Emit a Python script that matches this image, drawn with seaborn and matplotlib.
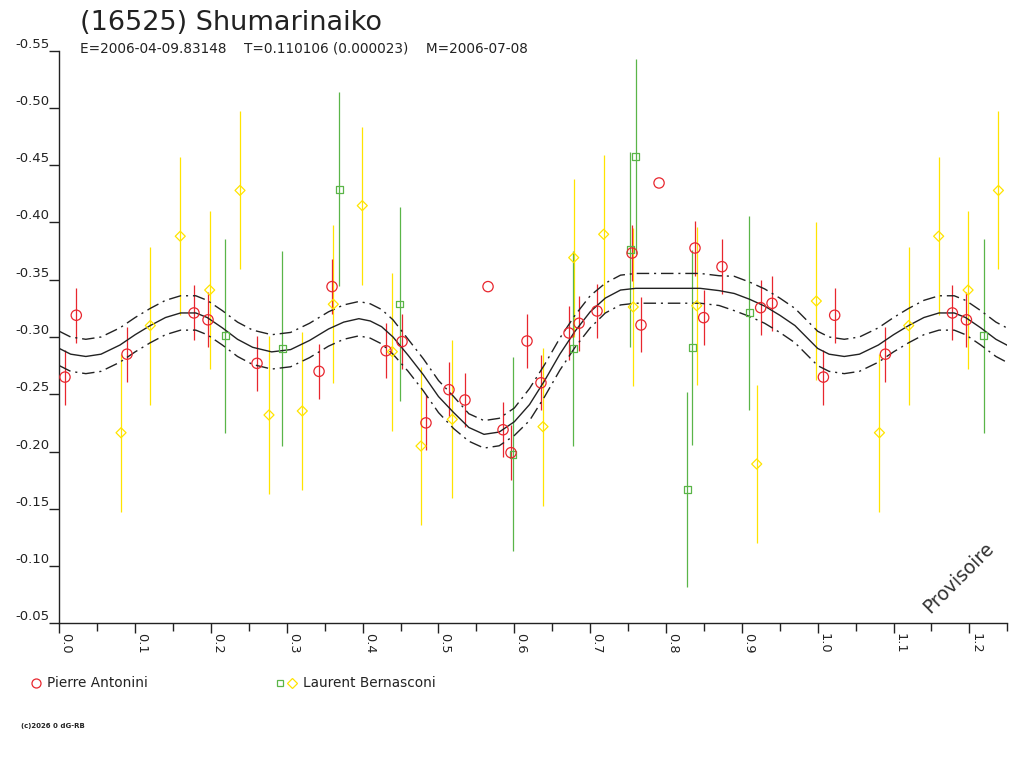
import numpy as np
import pandas as pd
import matplotlib
matplotlib.use("Agg")
import matplotlib.pyplot as plt
from matplotlib.lines import Line2D
import seaborn as sns

# (16525) Shumarinaiko - phased light curve

# Pierre Antonini (red circles)
ant_phase = [0.0075, 0.0224, 0.0893, 0.1776, 0.1961, 0.2607, 0.3425, 0.3596,
             0.4308, 0.4519, 0.4835, 0.5138, 0.5349, 0.5653, 0.5851, 0.5956,
             0.6167, 0.6351, 0.6721, 0.6853, 0.7090, 0.7552, 0.7908, 0.7670,
             0.8382, 0.8497, 0.8738, 0.9248, 0.9398]
ant_mag = [-0.265, -0.319, -0.285, -0.321, -0.315, -0.277, -0.270, -0.344,
           -0.288, -0.296, -0.225, -0.254, -0.245, -0.344, -0.219, -0.199,
           -0.2965, -0.260, -0.3035, -0.312, -0.3227, -0.3733, -0.4345, -0.3105,
           -0.3777, -0.3169, -0.3614, -0.3256, -0.3294]
ant_err = [0.024, 0.024, 0.024, 0.024, 0.024, 0.024, 0.024, 0.024,
           0.024, 0.024, 0.024, 0.024, 0.024, 0.0, 0.024, 0.024,
           0.024, 0.024, 0.024, 0.024, 0.024, 0.0245, 0.0, 0.024,
           0.024, 0.024, 0.024, 0.024, 0.024]

# Laurent Bernasconi, green squares
grn_phase = [0.2189, 0.2940, 0.3692, 0.4488, 0.5982, 0.6777, 0.7529, 0.7600,
             0.8347, 0.8280, 0.9098]
grn_mag = [-0.3009, -0.2898, -0.4292, -0.3288, -0.1978, -0.2901, -0.3766, -0.4574,
           -0.2907, -0.1670, -0.3210]
grn_err = [0.085] * 11

# Laurent Bernasconi, yellow diamonds
yel_phase = [0.0814, 0.1200, 0.1595, 0.1983, 0.2383, 0.2765, 0.3204, 0.3613,
             0.3995, 0.4391, 0.4769, 0.5182, 0.6378, 0.6783, 0.7178, 0.7568,
             0.8405, 0.9196, 0.9982]
yel_mag = [-0.2164, -0.310, -0.388, -0.341, -0.428, -0.2319, -0.2354, -0.3286,
           -0.4147, -0.2872, -0.2048, -0.2281, -0.2217, -0.3693, -0.3897, -0.3262,
           -0.3273, -0.1891, -0.3314]
yel_err = [0.069] * 19

# Fourier fit and its uncertainty band
fit_phase = [0.000, 0.015, 0.035, 0.055, 0.080, 0.100, 0.120, 0.140, 0.160, 0.180,
             0.195, 0.215, 0.235, 0.255, 0.280, 0.305, 0.330, 0.355, 0.375, 0.395,
             0.410, 0.425, 0.440, 0.460, 0.480, 0.500, 0.520, 0.540, 0.560, 0.580,
             0.600, 0.620, 0.640, 0.660, 0.680, 0.700, 0.720, 0.740, 0.760, 0.800,
             0.845, 0.870, 0.890, 0.910, 0.930, 0.950, 0.970, 0.985, 1.000]
fit_mag = [-0.290, -0.285, -0.283, -0.285, -0.293, -0.302, -0.310, -0.317, -0.321, -0.321,
           -0.317, -0.308, -0.298, -0.291, -0.287, -0.289, -0.297, -0.307, -0.313, -0.316,
           -0.314, -0.309, -0.300, -0.284, -0.267, -0.248, -0.234, -0.221, -0.215, -0.217,
           -0.226, -0.241, -0.262, -0.285, -0.305, -0.322, -0.334, -0.341, -0.3425, -0.3425,
           -0.3425, -0.3405, -0.338, -0.333, -0.327, -0.319, -0.310, -0.300, -0.290]
fit_band = [0.015, 0.015, 0.015, 0.015, 0.015, 0.015, 0.015, 0.015, 0.015, 0.015,
            0.015, 0.015, 0.015, 0.015, 0.015, 0.015, 0.015, 0.015, 0.015, 0.015,
            0.015, 0.015, 0.015, 0.014, 0.014, 0.014, 0.014, 0.012, 0.012, 0.012,
            0.012, 0.014, 0.014, 0.014, 0.014, 0.014, 0.013, 0.013, 0.013, 0.013,
            0.013, 0.013, 0.015, 0.015, 0.015, 0.015, 0.015, 0.015, 0.015]

x_ticks = [0.0, 0.1, 0.2, 0.3, 0.4, 0.5, 0.6, 0.7, 0.8, 0.9, 1.0, 1.1, 1.2]
x_labels = ["0.0", "0.1", "0.2", "0.3", "0.4", "0.5", "0.6", "0.7", "0.8", "0.9", "1.0", "1.1", "1.2"]
y_ticks = [-0.55, -0.50, -0.45, -0.40, -0.35, -0.30, -0.25, -0.20, -0.15, -0.10, -0.05]
y_labels = ["-0.55", "-0.50", "-0.45", "-0.40", "-0.35", "-0.30", "-0.25", "-0.20", "-0.15", "-0.10", "-0.05"]

RED = "#e8262e"
GRN = "#5ab548"
YEL = "#ffe400"
INK = "#222222"


def wrap(df, upto=0.25):
    # phases just past 1.0 are the same observations shown again
    extra = df[df["phase"] <= upto].copy()
    extra["phase"] += 1.0
    return pd.concat([df, extra], ignore_index=True)


ant = wrap(pd.DataFrame({"phase": ant_phase, "mag": ant_mag, "err": ant_err}))
grn = wrap(pd.DataFrame({"phase": grn_phase, "mag": grn_mag, "err": grn_err}))
yel = wrap(pd.DataFrame({"phase": yel_phase, "mag": yel_mag, "err": yel_err}))
fit = wrap(pd.DataFrame({"phase": fit_phase, "mag": fit_mag, "band": fit_band}), upto=0.26)
fit["upper"] = fit["mag"] - fit["band"]
fit["lower"] = fit["mag"] + fit["band"]

sns.set_theme(style="ticks")
plt.rcParams["font.family"] = ["DejaVu Sans"]
plt.rcParams["axes.unicode_minus"] = False

W, H = 1024, 768
fig = plt.figure(figsize=(W / 100, H / 100), dpi=100)
ax = fig.add_axes([59.3 / W, 1 - 623.3 / H, 948 / W, 572.6 / H])

# error bars
for df, col in [(yel, YEL), (grn, GRN), (ant, RED)]:
    ax.vlines(df["phase"], df["mag"] - df["err"], df["mag"] + df["err"],
              color=col, lw=0.9, zorder=2)

# fit and band
dashdot = (0, (9, 3.5, 1.5, 3.5))
sns.lineplot(data=fit, x="phase", y="mag", ax=ax, color=INK, lw=1.0,
             estimator=None, sort=False, legend=False, zorder=3)
sns.lineplot(data=fit, x="phase", y="upper", ax=ax, color=INK, lw=1.0,
             linestyle=dashdot, estimator=None, sort=False, legend=False, zorder=3)
sns.lineplot(data=fit, x="phase", y="lower", ax=ax, color=INK, lw=1.0,
             linestyle=dashdot, estimator=None, sort=False, legend=False, zorder=3)

# markers
sns.scatterplot(data=yel, x="phase", y="mag", ax=ax, marker="D", s=26,
                facecolor="none", edgecolor=YEL, linewidth=0.9, zorder=4, legend=False)
sns.scatterplot(data=grn, x="phase", y="mag", ax=ax, marker="s", s=25,
                facecolor="none", edgecolor=GRN, linewidth=0.9, zorder=4, legend=False)
sns.scatterplot(data=ant, x="phase", y="mag", ax=ax, marker="o", s=55,
                facecolor="none", edgecolor=RED, linewidth=0.9, zorder=5, legend=False)

ax.set_xlim(0, 1.25)
ax.set_ylim(-0.05, -0.55)
ax.set_xlabel("")
ax.set_ylabel("")
sns.despine(ax=ax)
for side in ["left", "bottom"]:
    ax.spines[side].set_color(INK)
    ax.spines[side].set_linewidth(1.0)

ax.set_xticks(x_ticks, x_labels)
ax.set_xticks(np.arange(0.05, 1.26, 0.1), minor=True)
ax.set_yticks(y_ticks, y_labels)
ax.tick_params(axis="x", which="major", length=7.2, width=1, color=INK, pad=0,
               labelsize=9.3, labelcolor=INK)
ax.tick_params(axis="x", which="minor", length=5.8, width=1, color=INK)
ax.tick_params(axis="y", length=7.2, width=1, color=INK, pad=0,
               labelsize=9.5, labelcolor=INK)
plt.setp(ax.get_xticklabels(), rotation=-90, ha="left", va="top")
plt.setp(ax.get_yticklabels(), va="bottom")

# header
fig.text(80 / W, 1 - 30 / H, "(16525) Shumarinaiko", fontsize=19.5, color=INK, va="baseline")
fig.text(80 / W, 1 - 53 / H, "E=2006-04-09.83148    T=0.110106 (0.000023)    M=2006-07-08",
         fontsize=9.8, color=INK, va="baseline")

fig.text(959 / W, 1 - 578 / H, "Provisoire", rotation=45, ha="center", va="center",
         fontsize=13.5, color="#333333")

# legend under the plot
ly = 1 - 683 / H
fig.add_artist(Line2D([36 / W], [ly], transform=fig.transFigure, marker="o", ms=6.5,
                      mfc="none", mec=RED, mew=0.9, ls="none"))
fig.text(47 / W, ly, "Pierre Antonini", va="center", fontsize=9.8, color=INK)
fig.add_artist(Line2D([280 / W], [ly], transform=fig.transFigure, marker="s", ms=5,
                      mfc="none", mec=GRN, mew=0.9, ls="none"))
fig.add_artist(Line2D([291.5 / W], [ly], transform=fig.transFigure, marker="D", ms=5.3,
                      mfc="none", mec=YEL, mew=0.9, ls="none"))
fig.text(303 / W, ly, "Laurent Bernasconi", va="center", fontsize=9.8, color=INK)

fig.text(21 / W, 1 - 726 / H, "(c)2026 0 dG-RB", fontsize=5, weight="bold", va="center", color=INK)

fig.savefig("out.png", dpi=100)
